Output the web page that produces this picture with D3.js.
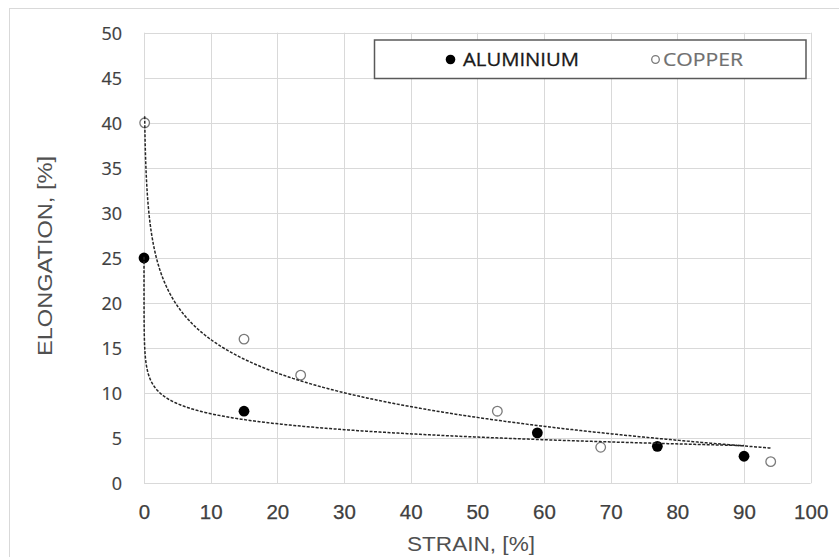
<!DOCTYPE html>
<html><head><meta charset="utf-8">
<script src="https://cdn.jsdelivr.net/npm/d3@7"></script>
<style>body{margin:0;background:#fff}svg{display:block}</style>
</head><body><svg id="c" width="839" height="557"></svg>
<script>
const xTicks = [0, 10, 20, 30, 40, 50, 60, 70, 80, 90, 100];
const yTicks = [0, 5, 10, 15, 20, 25, 30, 35, 40, 45, 50];
const aluminiumStrain = [0.0002, 15, 59, 77, 90];
const aluminiumElong = [25, 8, 5.6, 4.1, 3.0];
const copperStrain = [0.1, 15, 23.5, 53, 68.5, 94];
const copperElong = [40, 16, 12, 8, 4, 2.4];
const seriesNames = ["ALUMINIUM", "COPPER"];
const xTitle = "STRAIN, [%]";
const yTitle = "ELONGATION, [%]";

const svg = d3.select("#c");
const x = d3.scaleLinear().domain([0, 100]).range([144, 810.7]);
const y = d3.scaleLinear().domain([0, 50]).range([483.3, 32.7]);

svg.append("rect").attr("x", 9.5).attr("y", 8.5).attr("width", 900).attr("height", 700)
  .attr("fill", "#fff").attr("stroke", "#d9d9d9");

// gridlines
const grid = svg.append("g").attr("stroke", "#d9d9d9").attr("stroke-width", 1);
grid.selectAll(".vx").data(xTicks).join("line")
  .attr("x1", d => Math.round(x(d)) + 0.5).attr("x2", d => Math.round(x(d)) + 0.5)
  .attr("y1", y(0)).attr("y2", y(50));
grid.selectAll(".hy").data(yTicks).join("line")
  .attr("y1", d => Math.round(y(d)) + 0.5).attr("y2", d => Math.round(y(d)) + 0.5)
  .attr("x1", x(0)).attr("x2", x(100));

// axes
const xAxis = svg.append("g").attr("transform", `translate(0,${y(0)})`)
  .call(d3.axisBottom(x).tickValues(xTicks).tickSize(0).tickPadding(0));
xAxis.select(".domain").remove();
xAxis.selectAll("text").attr("y", 36).attr("dy", null)
  .style("font-family", "'Liberation Sans', Arial, sans-serif").style("font-size", "20.5px")
  .attr("fill", "#404040").attr("stroke", "#404040").attr("stroke-width", 0.25);

const yAxis = svg.append("g").attr("transform", `translate(${x(0)},0)`)
  .call(d3.axisLeft(y).tickValues(yTicks).tickSize(0).tickPadding(0));
yAxis.select(".domain").remove();
yAxis.selectAll("text").attr("x", -22).attr("dy", "6.3")
  .style("font-family", "'Open Sans', sans-serif").style("font-size", "18px")
  .attr("fill", "#404040").attr("stroke", "#404040").attr("stroke-width", 0.2);

// axis titles
svg.append("text").attr("x", 471).attr("y", 551).attr("text-anchor", "middle")
  .attr("textLength", 128).attr("lengthAdjust", "spacingAndGlyphs")
  .style("font-family", "'Liberation Sans', Arial, sans-serif").style("font-size", "20px").attr("fill", "#505050")
  .text(xTitle);
svg.append("text").attr("transform", "translate(51.5,256) rotate(-90)").attr("text-anchor", "middle")
  .attr("textLength", 200).attr("lengthAdjust", "spacingAndGlyphs")
  .style("font-family", "'Liberation Sans', Arial, sans-serif").style("font-size", "21px").attr("fill", "#505050")
  .text(yTitle);

// log trendline via least squares
function logFit(xs, ys) {
  const lx = xs.map(Math.log);
  const mx = d3.mean(lx), my = d3.mean(ys);
  let sxy = 0, sxx = 0;
  lx.forEach((v, i) => { sxy += (v - mx) * (ys[i] - my); sxx += (v - mx) * (v - mx); });
  const a = sxy / sxx;
  return { a, b: my - a * mx };
}
function trendPoints(xs, ys) {
  const f = logFit(xs, ys);
  const lo = d3.min(xs), hi = d3.max(xs);
  const pts = [];
  for (let i = 0; i <= 300; i++) pts.push(Math.exp(Math.log(lo) + (Math.log(hi) - Math.log(lo)) * i / 300));
  for (let i = 0; i <= 300; i++) pts.push(lo + (hi - lo) * i / 300);
  pts.sort((p, q) => p - q);
  return pts.map(p => [p, f.a * Math.log(p) + f.b]);
}
const line = d3.line().x(d => x(d[0])).y(d => y(d[1]));

const alData = aluminiumStrain.map((s, i) => [s, aluminiumElong[i]]);
const cuData = copperStrain.map((s, i) => [s, copperElong[i]]);

// markers
svg.append("g").selectAll("circle").data(cuData).join("circle")
  .attr("cx", d => x(d[0])).attr("cy", d => y(d[1])).attr("r", 4.8)
  .attr("fill", "#fff").attr("stroke", "#7a7a7a").attr("stroke-width", 1.3);
svg.append("g").selectAll("circle").data(alData).join("circle")
  .attr("cx", d => x(d[0])).attr("cy", d => y(d[1])).attr("r", 5.4)
  .attr("fill", "#000");

// trendlines
[trendPoints(aluminiumStrain, aluminiumElong), trendPoints(copperStrain, copperElong)].forEach(t => {
  svg.append("path").datum(t).attr("d", line).attr("fill", "none")
    .attr("stroke", "#262626").attr("stroke-width", 1.5).attr("stroke-dasharray", "3,1.5");
});

// legend
const lg = svg.append("g");
lg.append("rect").attr("x", 374.5).attr("y", 40).attr("width", 431.5).attr("height", 38.5)
  .attr("fill", "#fff").attr("stroke", "#595959").attr("stroke-width", 1.5);
lg.append("circle").attr("cx", 450.5).attr("cy", 59.5).attr("r", 4.8).attr("fill", "#000");
lg.append("circle").attr("cx", 655.5).attr("cy", 59.5).attr("r", 3.8).attr("fill", "#fff")
  .attr("stroke", "#7a7a7a").attr("stroke-width", 1.3);
lg.append("text").attr("x", 463).attr("y", 66.3).attr("textLength", 116).attr("lengthAdjust", "spacingAndGlyphs")
  .style("font-family", "'Open Sans', sans-serif").style("font-size", "18.5px")
  .attr("fill", "#1a1a1a").attr("stroke", "#1a1a1a").attr("stroke-width", 0.3)
  .text(seriesNames[0]);
lg.append("text").attr("x", 663).attr("y", 66.3).attr("textLength", 80).attr("lengthAdjust", "spacingAndGlyphs")
  .style("font-family", "'Open Sans', sans-serif").style("font-size", "18.5px")
  .attr("fill", "#707070").attr("stroke", "#707070").attr("stroke-width", 0.2)
  .text(seriesNames[1]);
</script></body></html>
